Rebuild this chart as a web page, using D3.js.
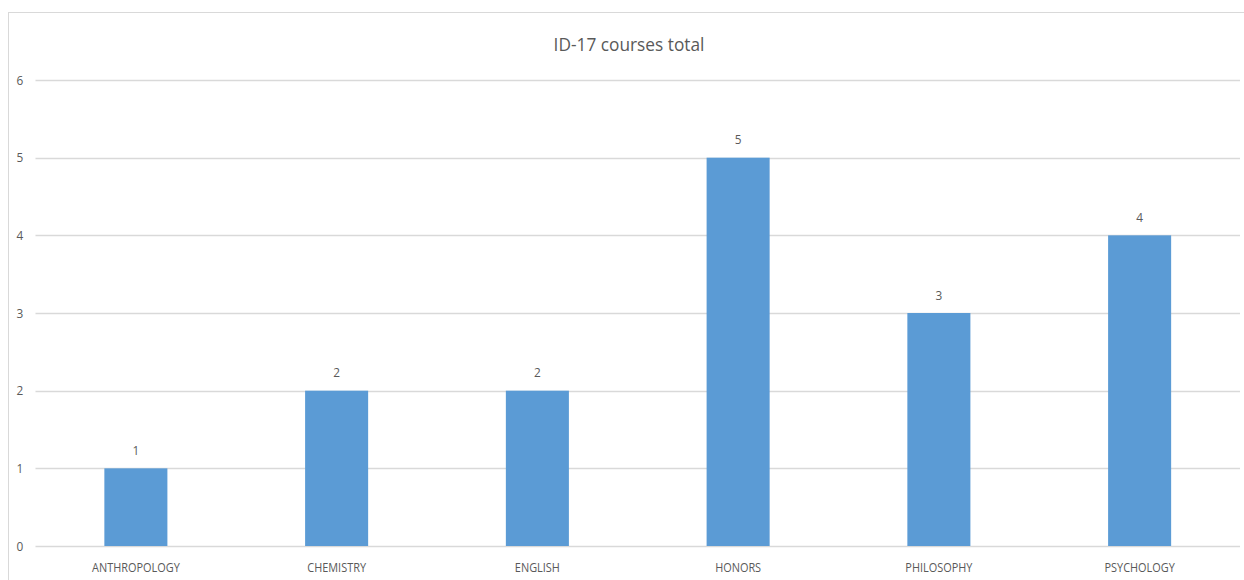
<!DOCTYPE html>
<html>
<head>
<meta charset="utf-8">
<script src="https://cdn.jsdelivr.net/npm/d3@7"></script>
<style>
  body { margin: 0; background: #fff; }
  text { font-family: "Open Sans", sans-serif; fill: #595959; }
</style>
</head>
<body>
<svg id="chart" width="1244" height="580"></svg>
<script>
const categories = ['ANTHROPOLOGY', 'CHEMISTRY', 'ENGLISH', 'HONORS', 'PHILOSOPHY', 'PSYCHOLOGY']
const values = [1, 2, 2, 5, 3, 4]
const yTicks = [0, 1, 2, 3, 4, 5, 6]
const title = 'ID-17 courses total'

const svg = d3.select('#chart')
const margin = {left: 35.5, right: 4, top: 80, bottom: 34}
const width = 1244, height = 580
const squeeze = 0.91  // source text is a narrow face

const place = (px, py) => `translate(${px},${py}) scale(${squeeze},1)`

// chart frame runs off the right and bottom edges
svg.append('rect')
  .attr('x', 8.5).attr('y', 12.5)
  .attr('width', 1260).attr('height', 600)
  .attr('fill', 'none').attr('stroke', '#d9d9d9')

const x = d3.scaleBand()
  .domain(categories)
  .range([margin.left, width - margin.right])
  .paddingInner(0.686)
  .paddingOuter(0.343)

const y = d3.scaleLinear()
  .domain([0, 6])
  .range([height - margin.bottom, margin.top])

svg.append('g').selectAll('line')
  .data(yTicks)
  .join('line')
  .attr('x1', margin.left).attr('x2', width - margin.right)
  .attr('y1', d => Math.round(y(d)) + 0.5)
  .attr('y2', d => Math.round(y(d)) + 0.5)
  .attr('stroke', '#d9d9d9').attr('stroke-width', 1.5)

svg.append('g').selectAll('text')
  .data(yTicks)
  .join('text')
  .attr('transform', d => place(20, y(d)))
  .attr('text-anchor', 'middle')
  .attr('dominant-baseline', 'central')
  .attr('font-size', 13)
  .text(d => d)

svg.append('g').selectAll('rect')
  .data(values)
  .join('rect')
  .attr('x', (d, i) => x(categories[i]))
  .attr('y', d => y(d))
  .attr('width', x.bandwidth())
  .attr('height', d => y(0) - y(d))
  .attr('fill', '#5b9bd5')

svg.append('g').selectAll('text')
  .data(values)
  .join('text')
  .attr('transform', (d, i) => place(x(categories[i]) + x.bandwidth() / 2, y(d) - 18))
  .attr('text-anchor', 'middle')
  .attr('dominant-baseline', 'central')
  .attr('font-size', 13)
  .text(d => d)

svg.append('g').selectAll('text')
  .data(categories)
  .join('text')
  .attr('transform', d => place(x(d) + x.bandwidth() / 2, 567))
  .attr('text-anchor', 'middle')
  .attr('dominant-baseline', 'central')
  .attr('font-size', 12)
  .text(d => d)

svg.append('text')
  .attr('transform', place(629, 44))
  .attr('text-anchor', 'middle')
  .attr('dominant-baseline', 'central')
  .attr('font-size', 19)
  .text(title)
</script>
</body>
</html>
